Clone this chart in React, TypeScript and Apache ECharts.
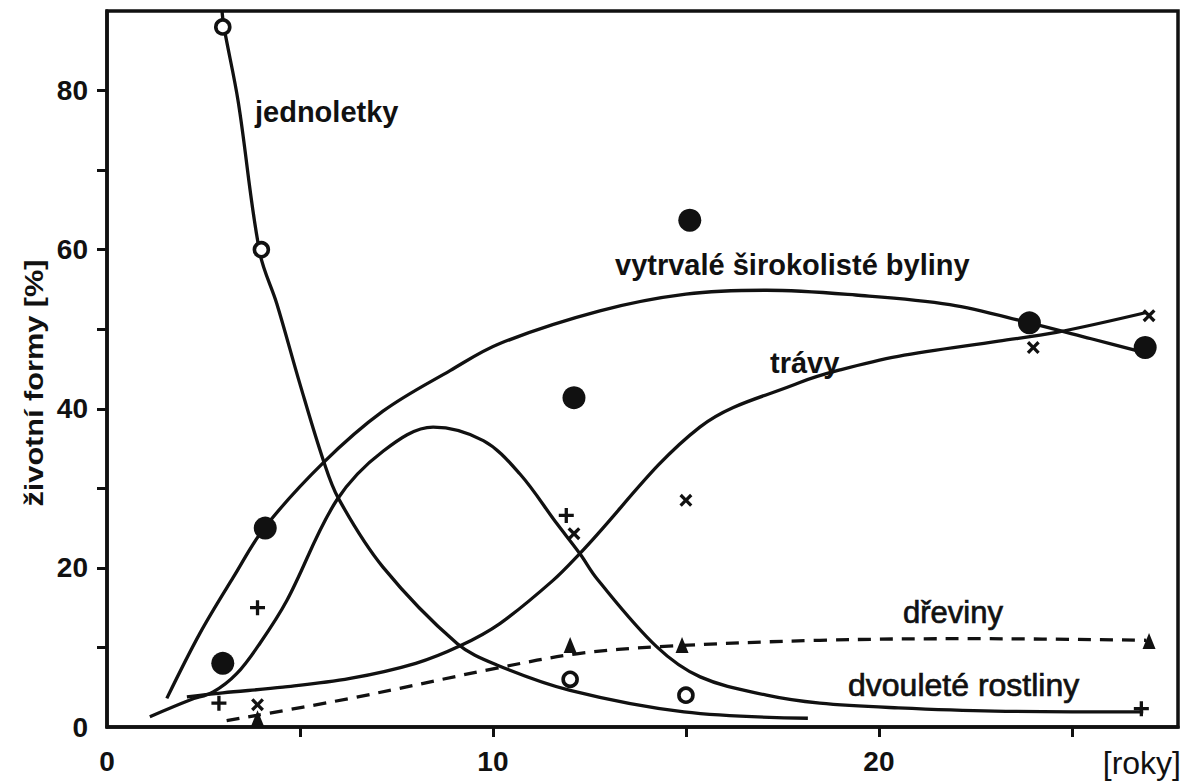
import React, { useEffect, useRef } from "react";
import * as echarts from "echarts";

// ---- measured points (markers) ----
const annualX = [3.0, 4.0, 12.0, 15.0];
const annualY = [88, 60, 6, 4];
const herbX = [3.0, 4.1, 12.1, 15.1, 23.9, 26.9];
const herbY = [8, 25, 41.4, 63.7, 50.8, 47.7];
const grassX = [3.9, 12.1, 15.0, 24.0, 27.0];
const grassY = [2.8, 24.3, 28.5, 47.7, 51.7];
const biennialX = [2.9, 3.9, 11.9, 26.8];
const biennialY = [3.0, 15.0, 26.6, 2.3];
const woodyX = [3.9, 12.0, 14.9, 27.0];
const woodyY = [1.1, 10.3, 10.3, 10.8];

// ---- drawn trend curves ----
const annualCurveX = [2.98, 3.03, 3.4, 3.96, 4.4, 5.0, 5.6, 6.0, 7.15, 9.07, 10.1, 12.0, 14.95, 18.16];
const annualCurveY = [90, 88, 78.6, 59.6, 53.2, 43.1, 33.6, 28.7, 20.1, 10.5, 7.8, 4.6, 1.9, 1.1];
const herbCurveX = [1.55, 2.41, 3.27, 4.09, 5.6, 7.15, 8.89, 10.18, 12.77, 15.0, 17.09, 19.4, 21.84, 23.9, 25.5, 26.93];
const herbCurveY = [3.6, 11.8, 18.8, 25.1, 33.2, 39.7, 44.8, 48.2, 52.3, 54.4, 54.9, 54.3, 53.1, 50.8, 48.8, 47.0];
const grassCurveX = [2.07, 3.0, 4.56, 6.3, 8.0, 9.15, 10.18, 11.55, 12.25, 15.36, 17.95, 19.0, 20.5, 23.1, 24.6, 26.93];
const grassCurveY = [3.8, 4.3, 5.0, 6.1, 8.0, 10.2, 13.0, 18.4, 21.8, 37.7, 43.3, 44.9, 46.6, 48.5, 49.6, 52.1];
const biennialCurveX = [1.11, 2.15, 2.75, 3.36, 3.96, 4.66, 5.95, 7.16, 8.45, 9.75, 10.7, 11.65, 12.25, 12.7, 14.24, 15.37, 17.09, 18.47, 20.5, 23.0, 26.85];
const biennialCurveY = [1.3, 3.4, 4.4, 6.7, 10.5, 15.9, 28.5, 34.7, 37.7, 36.0, 31.8, 25.6, 21.8, 18.6, 10.1, 6.3, 4.0, 3.0, 2.4, 2.0, 1.9];
const woodyCurveX = [3.1, 6.3, 10.1, 12.17, 14.33, 18.47, 22.5, 26.93];
const woodyCurveY = [0.8, 3.6, 7.4, 9.2, 10.1, 10.9, 11.1, 10.9];

// ---- axes ----
const xTicks = [5, 10, 15, 20, 25];
const xTickLabels = [0, 10, 20];
const yTicks = [10, 20, 30, 40, 50, 60, 70, 80];
const yTickLabels = [0, 20, 40, 60, 80];

const zip = (xs: number[], ys: number[]) => xs.map((x, i) => [x, ys[i]]);

export default function App() {
  const ref = useRef<HTMLDivElement>(null);
  useEffect(() => {
    const chart = echarts.init(ref.current as HTMLDivElement, null, { renderer: "svg" });
    const ink = "#111111";
    const font = '"Liberation Sans", Arial, sans-serif';
    const plus = "path://M3.9,0H6.1V3.9H10V6.1H6.1V10H3.9V6.1H0V3.9H3.9Z";
    const curve = (name: string, xs: number[], ys: number[], dashed = false) => ({
      name,
      type: "line",
      data: zip(xs, ys),
      smooth: 0.35,
      symbol: "none",
      lineStyle: { color: ink, width: 3.3, type: dashed ? [13, 9] : "solid" },
      z: 2,
    });
    const label = (text: string, x: number, y: number, weight = "bold", size = 29, strokeW = 0) => ({
      type: "text",
      x,
      y,
      style: {
        text,
        fill: ink,
        stroke: strokeW ? ink : undefined,
        lineWidth: strokeW,
        fontFamily: font,
        fontWeight: weight,
        fontSize: size,
        align: "left",
        verticalAlign: "middle",
      },
      z: 10,
    });
    const marks = (name: string, xs: number[], ys: number[], extra: any) => ({
      name,
      type: "scatter",
      data: zip(xs, ys),
      z: 5,
      ...extra,
      itemStyle: { opacity: 1, ...extra.itemStyle },
    });
    chart.setOption({
      animation: false,
      backgroundColor: "#ffffff",
      grid: {
        left: 107,
        top: 11,
        right: 6,
        bottom: 54,
        show: true,
        borderColor: ink,
        borderWidth: 3.5,
        containLabel: false,
      },
      xAxis: {
        type: "value",
        min: 0,
        max: 27.75,
        interval: 5,
        splitLine: { show: false },
        axisLine: { lineStyle: { color: ink, width: 3.5 } },
        axisTick: { customValues: xTicks, length: 10, inside: false, lineStyle: { color: ink, width: 3 } },
        axisLabel: {
          customValues: xTickLabels,
          color: ink,
          fontFamily: font,
          fontWeight: "bold",
          fontSize: 28,
          margin: 20,
        },
      },
      yAxis: {
        type: "value",
        min: 0,
        max: 90,
        interval: 10,
        splitLine: { show: false },
        axisLine: { lineStyle: { color: ink, width: 3.5 } },
        axisTick: { customValues: yTicks, length: 10, inside: false, lineStyle: { color: ink, width: 3 } },
        axisLabel: {
          customValues: yTickLabels,
          color: ink,
          fontFamily: font,
          fontWeight: "bold",
          fontSize: 28,
          margin: 19,
        },
      },
      series: [
        curve("jednoletky", annualCurveX, annualCurveY),
        curve("vytrvalé širokolisté byliny", herbCurveX, herbCurveY),
        curve("trávy", grassCurveX, grassCurveY),
        curve("dvouleté rostliny", biennialCurveX, biennialCurveY),
        curve("dřeviny", woodyCurveX, woodyCurveY, true),
        marks("jednoletky body", annualX, annualY, {
          symbol: "circle",
          symbolSize: 14,
          itemStyle: { color: "#ffffff", borderColor: ink, borderWidth: 3.6 },
        }),
        marks("byliny body", herbX, herbY, { symbol: "circle", symbolSize: 23, itemStyle: { color: ink } }),
        marks("trávy body", grassX, grassY, {
          symbol: plus,
          symbolRotate: 45,
          symbolSize: 15,
          itemStyle: { color: ink },
        }),
        marks("dvouleté body", biennialX, biennialY, { symbol: plus, symbolSize: 15, itemStyle: { color: ink } }),
        marks("dřeviny body", woodyX, woodyY, { symbol: "triangle", symbolSize: [13, 16], itemStyle: { color: ink } }),
      ],
      graphic: [
        label("jednoletky", 255, 112),
        label("vytrvalé širokolisté byliny", 615, 265),
        label("trávy", 770, 363),
        label("dřeviny", 903, 612, "normal", 31, 0.7),
        label("dvouleté rostliny", 848, 685, "normal", 32, 0.7),
        {
          type: "text",
          x: 1181,
          y: 763,
          style: {
            text: "[roky]",
            fill: ink,
            fontFamily: font,
            fontWeight: "normal",
            fontSize: 32,
            align: "right",
            verticalAlign: "middle",
          },
        },
        {
          type: "text",
          x: 34,
          y: 383,
          rotation: Math.PI / 2,
          scaleX: 1.18,
          style: {
            text: "životní formy [%]",
            fill: ink,
            fontFamily: font,
            fontWeight: "bold",
            fontSize: 26,
            align: "center",
            verticalAlign: "middle",
          },
        },
      ],
    });
    return () => chart.dispose();
  }, []);
  return (
    <div
      ref={ref}
      style={{ position: "fixed", left: 0, top: 0, width: 1184, height: 781, background: "#fff" }}
    />
  );
}
